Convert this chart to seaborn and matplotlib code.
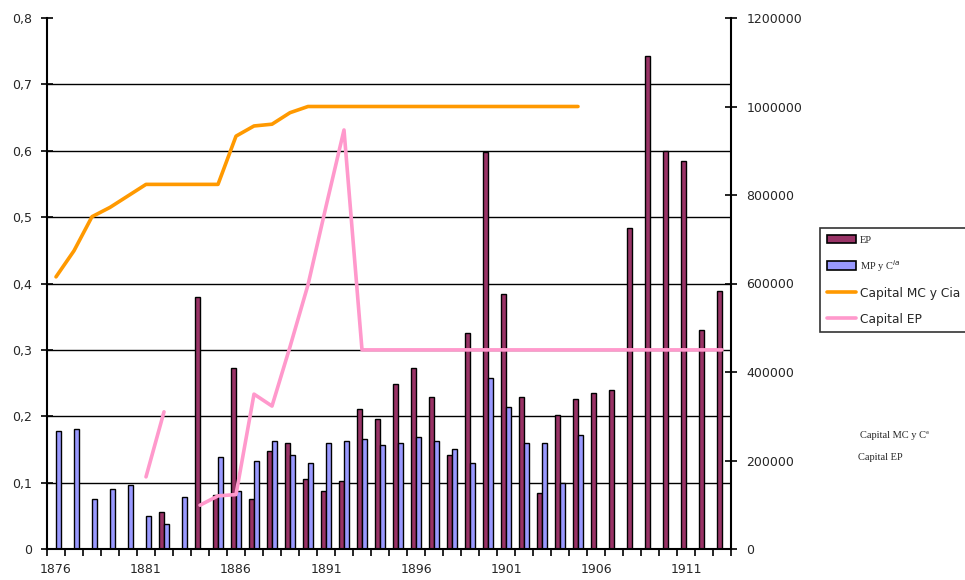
import numpy as np
import pandas as pd
import matplotlib
matplotlib.use("Agg")
import matplotlib.pyplot as plt
import seaborn as sns
from matplotlib.patches import Patch
from matplotlib.lines import Line2D
from matplotlib.ticker import FuncFormatter, FixedLocator

nan = np.nan
years = list(range(1876, 1914))
ep = [nan, nan, nan, nan, nan, nan, 0.055, nan, 0.380, 0.082,
      0.272, 0.076, 0.148, 0.160, 0.106, 0.088, 0.103, 0.211, 0.196, 0.248,
      0.272, 0.229, 0.142, 0.326, 0.598, 0.384, 0.229, 0.085, 0.202, 0.226,
      0.235, 0.240, 0.483, 0.743, 0.600, 0.585, 0.330, 0.388]
mp = [0.178, 0.181, 0.076, 0.091, 0.097, 0.049, 0.037, 0.079, nan, 0.139,
      0.088, 0.133, 0.163, 0.142, 0.130, 0.160, 0.163, 0.166, 0.157, 0.160,
      0.169, 0.163, 0.151, 0.130, 0.257, 0.214, 0.160, 0.160, 0.099, 0.172,
      nan, nan, nan, nan, nan, nan, nan, nan]
cap_mc = [615000, 674000, 751000, 772000, 798000, 824000, 824000, 824000, 824000, 824000,
          933000, 956000, 960000, 986000, 1000000, 1000000, 1000000, 1000000, 1000000, 1000000,
          1000000, 1000000, 1000000, 1000000, 1000000, 1000000, 1000000, 1000000, 1000000, 1000000,
          nan, nan, nan, nan, nan, nan, nan, nan]
cap_ep = [nan, nan, nan, nan, nan, 163000, 310000, nan, 99000, 120000,
          123000, 350000, 323000, 457000, 597000, 774000, 947000, 450000, 450000, 450000,
          450000, 450000, 450000, 450000, 450000, 450000, 450000, 450000, 450000, 450000,
          450000, 450000, 450000, 450000, 450000, 450000, 450000, 450000]
xtick_labels = ["1876", "1881", "1886", "1891", "1896", "1901", "1906", "1911"]
series_names = ["EP", "MP y C$^{ia}$", "Capital MC y Cia", "Capital EP"]

c_ep = "#993366"
c_mp = "#9999FF"
c_mc = "#FF9900"
c_cep = "#FF99CC"

sns.set_style("white")
plt.rcParams["font.family"] = ["DejaVu Sans"]

fig = plt.figure(figsize=(9.65, 5.8), dpi=100)
ax = fig.add_axes([47/965, 1-549/580, (731-47)/965, (549-18)/580])

bars = pd.DataFrame({
    "year": years * 2,
    "serie": ["EP"] * len(years) + ["MP"] * len(years),
    "valor": ep + mp,
}).dropna()

sns.barplot(data=bars, x="year", y="valor", hue="serie", order=years,
            hue_order=["EP", "MP"], palette=[c_ep, c_mp], width=0.572,
            errorbar=None, edgecolor="black", linewidth=1.0, legend=False,
            saturation=1, ax=ax)

ax.set_xlim(-0.5, len(years) - 0.5)
ax.set_ylim(0, 0.8)
ax.set_yticks(np.arange(0, 0.81, 0.1))
ax.yaxis.set_major_formatter(FuncFormatter(lambda v, p: "0" if abs(v) < 1e-9 else f"{v:.1f}".replace(".", ",")))
for v in np.arange(0.1, 0.75, 0.1):
    ax.axhline(v, color="black", lw=1.0, zorder=0)
ax.set_axisbelow(True)
ax.set_xlabel("")
ax.set_ylabel("")

pos = [years.index(int(l)) for l in xtick_labels]
ax.xaxis.set_major_locator(FixedLocator(pos))
ax.set_xticklabels(xtick_labels)
ax.xaxis.set_minor_locator(FixedLocator(np.arange(-0.5, len(years), 1.0)))
ax.tick_params(axis="x", which="major", length=0, pad=10, labelsize=9)
ax.tick_params(axis="x", which="minor", length=5, width=1.2, direction="out", bottom=True, color="black")
ax.tick_params(axis="y", which="major", length=8, width=1.2, direction="inout", pad=7, labelsize=9, left=True, color="black")

for s in ["left", "bottom"]:
    ax.spines[s].set_color("black")
    ax.spines[s].set_linewidth(1.5)
ax.spines["top"].set_visible(False)
ax.spines["right"].set_visible(False)

ax2 = ax.twinx()
idx = np.arange(len(years))
mc_df = pd.DataFrame({"x": idx, "y": cap_mc}).dropna()
sns.lineplot(data=mc_df, x="x", y="y", color=c_mc, lw=2.6, ax=ax2, legend=False)

# Capital EP has gaps: draw each contiguous run
cep_arr = np.array(cap_ep, dtype=float)
run_id = np.cumsum(np.isnan(cep_arr))
cep_df = pd.DataFrame({"x": idx, "y": cep_arr, "run": run_id}).dropna()
for r, sub in cep_df.groupby("run"):
    sns.lineplot(data=sub, x="x", y="y", color=c_cep, lw=2.6, ax=ax2, legend=False)

ax2.set_ylim(0, 1200000)
ax2.set_yticks(np.arange(0, 1200001, 200000))
ax2.yaxis.set_major_formatter(FuncFormatter(lambda v, p: f"{int(round(v))}"))
ax2.tick_params(axis="y", which="major", length=8, width=1.2, direction="inout", pad=7, labelsize=9, right=True, color="black")
ax2.set_ylabel("")
ax2.set_xlabel("")
ax2.set_xlim(-0.5, len(years) - 0.5)
for s in ["left", "top", "bottom"]:
    ax2.spines[s].set_visible(False)
ax2.spines["right"].set_color("black")
ax2.spines["right"].set_linewidth(1.5)

handles = [Patch(facecolor=c_ep, edgecolor="black", lw=1.2),
           Patch(facecolor=c_mp, edgecolor="black", lw=1.2),
           Line2D([0], [0], color=c_mc, lw=2.6),
           Line2D([0], [0], color=c_cep, lw=2.6)]
leg = fig.legend(handles, series_names, loc="upper left",
                 bbox_to_anchor=(820/965, 1-228/580), fontsize=8.8,
                 frameon=True, fancybox=False, edgecolor="black",
                 handlelength=2.4, handletextpad=0.3, labelspacing=1.05,
                 borderpad=0.55, borderaxespad=0)
leg.get_frame().set_linewidth(1.2)
leg.get_frame().set_facecolor("white")
for t in leg.get_texts()[:2]:
    t.set_family(["Liberation Serif", "DejaVu Serif"])
    t.set_fontsize(7.5)

fig.text(860/965, 1-436/580, "Capital MC y C\u00aa", family=["Liberation Serif", "DejaVu Serif"],
         fontsize=7.5, va="center", ha="left")
fig.text(858/965, 1-457/580, "Capital EP", family=["Liberation Serif", "DejaVu Serif"],
         fontsize=7.5, va="center", ha="left")

fig.savefig("out.png", dpi=100)
